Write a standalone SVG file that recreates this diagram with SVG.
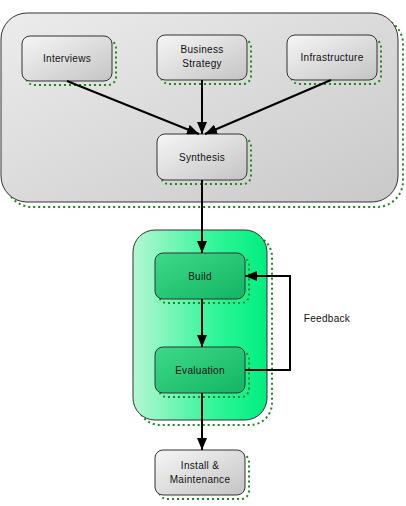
<svg xmlns="http://www.w3.org/2000/svg" width="406" height="506" viewBox="0 0 406 506">
<style>
.shadow{fill:none;stroke:#1a8a1a;stroke-width:2;stroke-dasharray:2 3}
.node{stroke:#333;stroke-width:1}
.gray{fill:url(#gGray)}
.green{fill:url(#gGreen)}
.lbl{font-family:"Liberation Sans",Arial,sans-serif;font-size:10px;fill:#111;text-anchor:middle;letter-spacing:0.3px}
.edge{stroke:#000;stroke-width:2;fill:none}
</style>
<defs>
<linearGradient id="gGray" x1="0" y1="0" x2="1" y2="1">
<stop offset="0" stop-color="#f6f6f6"/><stop offset="1" stop-color="#c4c4c4"/>
</linearGradient>
<linearGradient id="gCont" x1="0" y1="0" x2="1" y2="1">
<stop offset="0" stop-color="#ececec"/><stop offset="1" stop-color="#c9c9c9"/>
</linearGradient>
<linearGradient id="gGreen" x1="0" y1="0" x2="1" y2="1">
<stop offset="0" stop-color="#3ed98a"/><stop offset="1" stop-color="#12b562"/>
</linearGradient>
<linearGradient id="gGCont" x1="0" y1="0" x2="1" y2="0">
<stop offset="0" stop-color="#b4f7d2"/><stop offset="0.6" stop-color="#33f59a"/><stop offset="1" stop-color="#00ee80"/>
</linearGradient>
<marker id="arr" viewBox="0 0 12 10" refX="12" refY="5" markerWidth="6" markerHeight="5" orient="auto" markerUnits="strokeWidth">
<path d="M0,0 L12,5 L0,10 z" fill="#000"/>
</marker>
</defs>

<g id="container-top">
<rect class="shadow" x="6" y="18" width="397" height="189" rx="26"/>
<rect x="1" y="13" width="397" height="189" rx="26" fill="url(#gCont)" stroke="#333" stroke-width="1"/>
</g>
<g id="container-green">
<rect class="shadow" x="138" y="235" width="134" height="190" rx="22"/>
<rect x="133" y="230" width="134" height="190" rx="22" fill="url(#gGCont)" stroke="#333" stroke-width="1"/>
</g>

<g id="n-interviews">
<rect class="shadow" x="26" y="40" width="90" height="45" rx="8"/>
<rect class="node gray" x="22" y="36" width="90" height="45" rx="8"/>
<text class="lbl" x="67" y="62">Interviews</text>
</g>
<g id="n-business">
<rect class="shadow" x="161" y="39" width="90" height="45" rx="8"/>
<rect class="node gray" x="157" y="35" width="90" height="45" rx="8"/>
<text class="lbl" x="202" y="53">Business</text>
<text class="lbl" x="202" y="67">Strategy</text>
</g>
<g id="n-infra">
<rect class="shadow" x="291" y="39" width="90" height="45" rx="8"/>
<rect class="node gray" x="287" y="35" width="90" height="45" rx="8"/>
<text class="lbl" x="332" y="61">Infrastructure</text>
</g>
<g id="n-synthesis">
<rect class="shadow" x="161" y="138" width="90" height="46" rx="8"/>
<rect class="node gray" x="157" y="134" width="90" height="46" rx="8"/>
<text class="lbl" x="202" y="161">Synthesis</text>
</g>
<g id="n-build">
<rect class="shadow" x="159" y="257" width="90" height="46" rx="8"/>
<rect class="node green" x="155" y="253" width="90" height="46" rx="8"/>
<text class="lbl" x="200" y="280">Build</text>
</g>
<g id="n-eval">
<rect class="shadow" x="159" y="351" width="90" height="46" rx="8"/>
<rect class="node green" x="155" y="347" width="90" height="46" rx="8"/>
<text class="lbl" x="200" y="374">Evaluation</text>
</g>
<g id="n-install">
<rect class="shadow" x="159" y="454" width="90" height="45" rx="8"/>
<rect class="node gray" x="155" y="450" width="90" height="45" rx="8"/>
<text class="lbl" x="200" y="469">Install &amp;</text>
<text class="lbl" x="200" y="483">Maintenance</text>
</g>

<g id="edges">
<line class="edge" x1="67" y1="81" x2="199" y2="134" marker-end="url(#arr)"/>
<line class="edge" x1="202" y1="80" x2="202" y2="134" marker-end="url(#arr)"/>
<line class="edge" x1="331" y1="80" x2="205" y2="134" marker-end="url(#arr)"/>
<line class="edge" x1="202" y1="180" x2="202" y2="253" marker-end="url(#arr)"/>
<line class="edge" x1="202" y1="299" x2="202" y2="347" marker-end="url(#arr)"/>
<line class="edge" x1="202" y1="393" x2="202" y2="450" marker-end="url(#arr)"/>
<polyline class="edge" points="245,370 290,370 290,276 245,276" marker-end="url(#arr)"/>
</g>
<text class="lbl" x="327" y="322">Feedback</text>
</svg>
